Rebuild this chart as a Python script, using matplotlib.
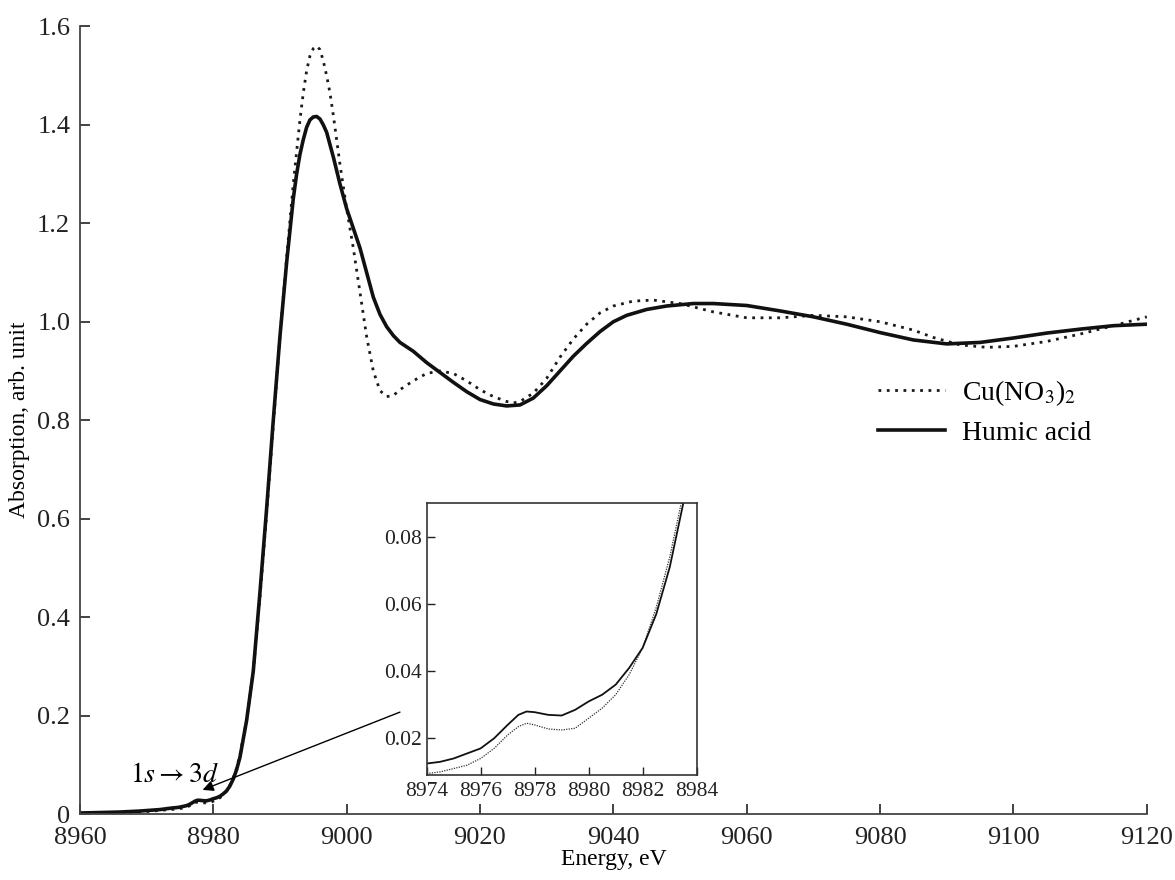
import matplotlib.pyplot as plt
################################################
# fonts: Times-like serif
plt.rcParams['font.family'] = 'Liberation Serif'
plt.rcParams['mathtext.fontset'] = 'stix'
################################################
# Humic acid (solid line)
ha_energy = [8960, 8963, 8966, 8969, 8972,
             8974, 8974.5, 8975, 8975.5, 8976, 8976.5, 8977, 8977.4, 8977.7, 8978,
             8978.5, 8979, 8979.5, 8980, 8980.5, 8981, 8981.5, 8982, 8982.5, 8983,
             8983.5, 8984, 8985, 8986, 8987, 8988, 8989, 8990, 8991, 8992,
             8992.5, 8993, 8993.5, 8994, 8994.5, 8995, 8995.5, 8996, 8996.5, 8997,
             8997.5, 8998, 8999, 9000, 9001, 9002, 9003, 9004, 9005, 9006,
             9007, 9008, 9010, 9012, 9014, 9016, 9018, 9020, 9022, 9024,
             9026, 9028, 9030, 9032, 9034, 9036, 9038, 9040, 9042, 9045,
             9048, 9052, 9055, 9060, 9065, 9070, 9075, 9080, 9085, 9090,
             9095, 9100, 9105, 9110, 9115, 9120]
ha_abs = [0.002, 0.003, 0.004, 0.006, 0.009,
          0.0125, 0.013, 0.014, 0.0155, 0.017, 0.020, 0.024, 0.027, 0.028, 0.0278,
          0.027, 0.0268, 0.0285, 0.031, 0.033, 0.036, 0.041, 0.047, 0.057, 0.071,
          0.09, 0.115, 0.19, 0.29, 0.45, 0.62, 0.80, 0.97, 1.12, 1.25,
          1.30, 1.34, 1.37, 1.395, 1.41, 1.416, 1.417, 1.412, 1.40, 1.385,
          1.36, 1.335, 1.28, 1.23, 1.19, 1.15, 1.10, 1.05, 1.015, 0.99,
          0.972, 0.958, 0.94, 0.917, 0.897, 0.877, 0.858, 0.842, 0.833, 0.829,
          0.831, 0.845, 0.87, 0.90, 0.93, 0.956, 0.98, 1.0, 1.013, 1.025,
          1.032, 1.037, 1.037, 1.033, 1.022, 1.01, 0.995, 0.978, 0.963, 0.955,
          0.958, 0.967, 0.977, 0.985, 0.992, 0.995]

# Cu(NO3)2 (dotted line)
cu_energy = [8960, 8966, 8970,
             8974, 8974.5, 8975, 8975.5, 8976, 8976.5, 8977, 8977.4, 8977.7, 8978,
             8978.5, 8979, 8979.5, 8980, 8980.5, 8981, 8981.5, 8982, 8982.5, 8983,
             8983.5, 8984, 8985, 8986, 8987, 8988, 8989, 8990, 8991, 8992,
             8993, 8993.5, 8994, 8994.5, 8995, 8995.5, 8996, 8996.5, 8997, 8997.5,
             8998, 8999, 9000, 9001, 9002, 9003, 9004, 9005, 9006, 9007,
             9008, 9010, 9012, 9014, 9016, 9018, 9020, 9022, 9024, 9025,
             9026, 9028, 9030, 9032, 9034, 9036, 9038, 9040, 9043, 9046,
             9050, 9055, 9060, 9065, 9070, 9075, 9080, 9085, 9088, 9092,
             9096, 9100, 9105, 9110, 9115, 9120]
cu_abs = [0.002, 0.003, 0.005,
          0.0095, 0.010, 0.011, 0.012, 0.014, 0.017, 0.021, 0.0235, 0.0245, 0.024,
          0.0228, 0.0225, 0.023, 0.026, 0.029, 0.033, 0.039, 0.047, 0.059, 0.074,
          0.093, 0.12, 0.19, 0.29, 0.44, 0.61, 0.79, 0.97, 1.13, 1.28,
          1.41, 1.465, 1.51, 1.54, 1.555, 1.56, 1.553, 1.53, 1.50, 1.465,
          1.42, 1.32, 1.23, 1.15, 1.06, 0.97, 0.90, 0.86, 0.848, 0.85,
          0.862, 0.88, 0.895, 0.90, 0.895, 0.88, 0.862, 0.848, 0.838, 0.835,
          0.838, 0.855, 0.885, 0.928, 0.965, 0.995, 1.018, 1.032, 1.042, 1.044,
          1.037, 1.02, 1.008, 1.008, 1.013, 1.01, 1.0, 0.983, 0.968, 0.953,
          0.948, 0.95, 0.96, 0.975, 0.992, 1.01]

x_ticks = [8960, 8980, 9000, 9020, 9040, 9060, 9080, 9100, 9120]
y_ticks = [0, 0.2, 0.4, 0.6, 0.8, 1.0, 1.2, 1.4, 1.6]
y_ticklabels = ['0', '0.2', '0.4', '0.6', '0.8', '1.0', '1.2', '1.4', '1.6']
inset_x_ticks = [8974, 8976, 8978, 8980, 8982, 8984]
inset_y_ticks = [0.02, 0.04, 0.06, 0.08]
################################################
fig = plt.figure(figsize=(11.75, 8.8), dpi=100)
ax = fig.add_axes([0.068, 0.075, 0.908, 0.895])

ax.plot(cu_energy, cu_abs, color='#1a1a1a', lw=2.0, linestyle=(0, (1, 2)),
        label='Cu(NO$_3$)$_2$')
ax.plot(ha_energy, ha_abs, color='#111111', lw=2.6, label='Humic acid')

ax.set_xlim(8960, 9120)
ax.set_ylim(0, 1.6)
ax.set_xticks(x_ticks)
ax.set_yticks(y_ticks)
ax.set_yticklabels(y_ticklabels)
ax.tick_params(direction='in', length=7, width=1.2, labelsize=19, colors='#222222')
ax.tick_params(axis='x', pad=9)
ax.tick_params(axis='y', pad=7)
for side in ['top', 'right']:
    ax.spines[side].set_visible(False)
for side in ['left', 'bottom']:
    ax.spines[side].set_color('#444444')
    ax.spines[side].set_linewidth(1.3)
ax.set_xlabel('Energy, eV', fontsize=17, labelpad=0)
ax.set_ylabel('Absorption, arb. unit', fontsize=17, labelpad=5)

ax.legend(loc='upper left', bbox_to_anchor=(0.725, 0.585), frameon=False,
          fontsize=20, handlelength=2.4, handletextpad=0.6, labelspacing=0.45)

# 1s -> 3d pre-edge annotation
ax.annotate('', xy=(8978.4, 0.049), xytext=(9008, 0.207),
            arrowprops=dict(arrowstyle='-|>', color='black', lw=1.0,
                            mutation_scale=16, shrinkA=0, shrinkB=0))
ax.text(8974.2, 0.078, r'$1s \rightarrow 3d$', fontsize=20, ha='center', va='center')

# inset: pre-edge region
ins = fig.add_axes([0.363, 0.119, 0.230, 0.309])
ins.plot(cu_energy, cu_abs, color='#333333', lw=0.9, linestyle=(0, (1, 1)))
ins.plot(ha_energy, ha_abs, color='#111111', lw=1.3)
ins.set_xlim(8974, 8984)
ins.set_ylim(0.009, 0.09)
ins.set_xticks(inset_x_ticks)
ins.set_yticks(inset_y_ticks)
ins.tick_params(direction='in', length=6, width=1.0, labelsize=15.5, colors='#222222')
ins.tick_params(axis='x', pad=5)
for side in ins.spines.values():
    side.set_color('#333333')
    side.set_linewidth(1.2)

plt.savefig('out.png', dpi=100)
